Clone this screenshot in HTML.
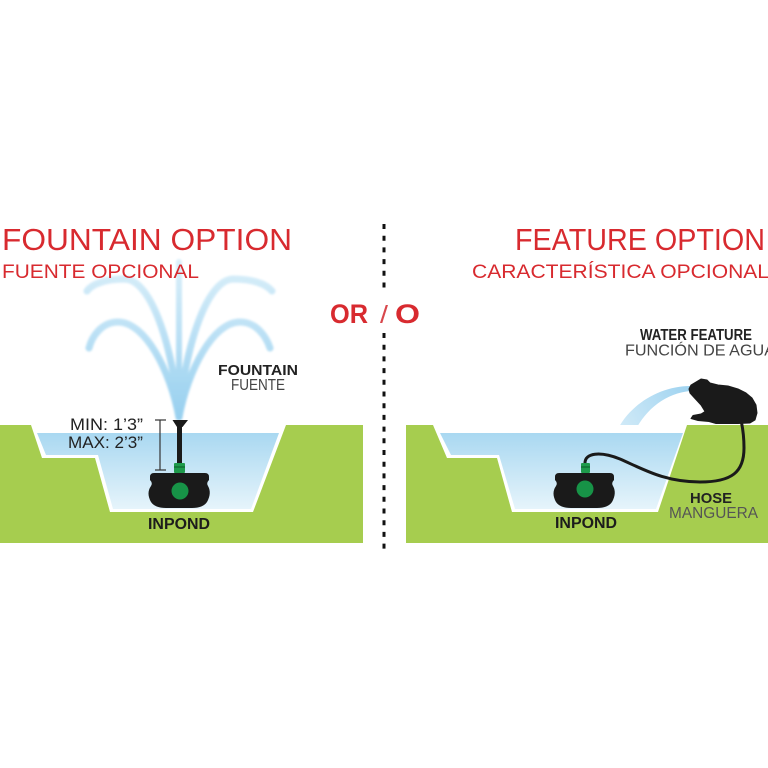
<!DOCTYPE html>
<html>
<head>
<meta charset="utf-8">
<style>
  html,body{margin:0;padding:0;background:#ffffff;}
  body{width:768px;height:768px;overflow:hidden;}
  svg{display:block;}
  text{font-family:"Liberation Sans", sans-serif;}
</style>
</head>
<body>
<svg width="768" height="768" viewBox="0 0 768 768" xmlns="http://www.w3.org/2000/svg">
  <defs>
    <linearGradient id="wat" x1="0" y1="0" x2="0" y2="1">
      <stop offset="0" stop-color="#a9d8f1"/>
      <stop offset="1" stop-color="#e6f4fb"/>
    </linearGradient>
    <linearGradient id="spray" gradientUnits="userSpaceOnUse" x1="0" y1="420" x2="0" y2="262">
      <stop offset="0" stop-color="#8ccbee"/>
      <stop offset="1" stop-color="#d6edf9"/>
    </linearGradient>
    <linearGradient id="arc" gradientUnits="userSpaceOnUse" x1="690" y1="388" x2="620" y2="433">
      <stop offset="0" stop-color="#9fd3f0"/>
      <stop offset="1" stop-color="#d3ebf8"/>
    </linearGradient>
    <filter id="blur" x="-20%" y="-20%" width="140%" height="140%">
      <feGaussianBlur stdDeviation="1.1"/>
    </filter>
  </defs>

  <rect width="768" height="768" fill="#ffffff"/>

  <!-- ===== LEFT PANEL ===== -->
  <rect x="0" y="425" width="363" height="118" fill="#a6cd4f"/>
  <polygon points="31,425 42,458 95,458 110,512 253,512 286,425" fill="#ffffff"/>
  <polygon points="37,433 46,455 98,455 113,509 251,509 279,433" fill="url(#wat)"/>

  <!-- fountain sprays -->
  <g fill="none" stroke="url(#spray)" stroke-linecap="round" filter="url(#blur)" opacity="0.9">
    <path d="M179,417 L179,262" stroke-width="6"/>
    <path d="M179,417 C172,340 150,280 125,279 C105,279 92,284 87,291" stroke-width="7"/>
    <path d="M179,417 C170,370 145,322 118,322 C102,322 92,336 89,348" stroke-width="7"/>
    <path d="M179,417 C186,340 208,280 233,279 C253,279 266,284 272,291" stroke-width="7"/>
    <path d="M179,417 C188,370 213,322 240,322 C256,322 266,336 270,348" stroke-width="7"/>
  </g>

  <!-- height bar -->
  <g stroke="#333" stroke-width="1.2">
    <line x1="160" y1="420" x2="160" y2="470"/>
    <line x1="155" y1="420" x2="166" y2="420"/>
    <line x1="155" y1="470" x2="166" y2="470"/>
  </g>

  <!-- left pump -->
  <g>
    <rect x="177" y="425" width="5" height="40" fill="#1a1a1a"/>
    <polygon points="172.5,420 188,420 182.5,427 177,427" fill="#1a1a1a"/>
    <rect x="174" y="463" width="11" height="10" rx="1" fill="#1e9a4b"/>
    <rect x="174" y="466" width="11" height="2" fill="#137a38"/>
    <path d="M154,473 L205,473 Q209,473 209,477 L209,480 Q206,483 208,486 Q212,493 207,502 Q203,508 192,508 L166,508 Q155,508 151,502 Q146,493 151,486 Q153,483 150,480 L150,477 Q150,473 154,473 Z" fill="#1a1a1a"/>
    <circle cx="180" cy="491" r="8.5" fill="#179347"/>
  </g>

  <text x="70" y="430" font-size="16.5" fill="#222" textLength="73" lengthAdjust="spacingAndGlyphs">MIN: 1’3”</text>
  <text x="68" y="448" font-size="16.5" fill="#222" textLength="75" lengthAdjust="spacingAndGlyphs">MAX: 2’3”</text>

  <text x="148" y="529" font-size="16" font-weight="bold" fill="#1c1c1c" textLength="62" lengthAdjust="spacingAndGlyphs">INPOND</text>

  <text x="218" y="375" font-size="15" font-weight="bold" fill="#222" textLength="80" lengthAdjust="spacingAndGlyphs">FOUNTAIN</text>
  <text x="231" y="390" font-size="15.5" fill="#444" textLength="54" lengthAdjust="spacingAndGlyphs">FUENTE</text>

  <text x="2" y="250" font-size="31" fill="#d82a2f" textLength="290" lengthAdjust="spacingAndGlyphs">FOUNTAIN OPTION</text>
  <text x="2" y="278" font-size="19.5" fill="#d82a2f" textLength="197" lengthAdjust="spacingAndGlyphs">FUENTE OPCIONAL</text>

  <!-- ===== DIVIDER ===== -->
  <line x1="384" y1="224" x2="384" y2="292" stroke="#111" stroke-width="3" stroke-dasharray="5 6.7"/>
  <line x1="384" y1="333" x2="384" y2="550" stroke="#111" stroke-width="3" stroke-dasharray="5 6.7"/>
  <text x="330" y="323" font-size="27" font-weight="bold" fill="#d82a2f" textLength="38" lengthAdjust="spacingAndGlyphs">OR</text>
  <text x="380" y="323" font-size="25" fill="#d8474c" textLength="8" lengthAdjust="spacingAndGlyphs">/</text>
  <text x="395" y="323" font-size="27" font-weight="bold" fill="#d82a2f" textLength="25" lengthAdjust="spacingAndGlyphs">O</text>

  <!-- ===== RIGHT PANEL ===== -->
  <text x="515" y="250" font-size="31" fill="#d82a2f" textLength="250" lengthAdjust="spacingAndGlyphs">FEATURE OPTION</text>
  <text x="472" y="278" font-size="19.5" fill="#d82a2f" textLength="297" lengthAdjust="spacingAndGlyphs">CARACTERÍSTICA OPCIONAL</text>

  <text x="640" y="340" font-size="16" font-weight="bold" fill="#222" textLength="112" lengthAdjust="spacingAndGlyphs">WATER FEATURE</text>
  <text x="625" y="355.5" font-size="16" fill="#444" textLength="150" lengthAdjust="spacingAndGlyphs">FUNCIÓN DE AGUA</text>

  <!-- water arc from frog -->
  <path d="M690,386 C660,386 628,405 616,433 L634,433 C645,410 665,393 691,391 Z" fill="url(#arc)"/>

  <rect x="406" y="425" width="362" height="118" fill="#a6cd4f"/>
  <polygon points="433,425 447,458 497,458 512,512 658,512 687,425" fill="#ffffff"/>
  <polygon points="440,433 451,455 499,455 515,509 656,509 683,433" fill="url(#wat)"/>

  <!-- frog -->
  <path d="M689,389 L691,385 L696,382 L701,379 L707,380 L710,383 L718,385 L728,386 L738,389 L746,393 L752,398 L756,405 L757,413 L755,420 L750,423 L738,423.5 L716,423.5 L709,421.5 L698,420.5 L691,418.5 L693,415.5 L701,414 L705,411.5 L701,405 L695,398.5 L690,393 Z" fill="#1a1a1a" stroke="#1a1a1a" stroke-width="1" stroke-linejoin="round"/>

  <!-- hose -->
  <path d="M585,463 C585,453 600,451 620,459 C645,470 665,482 700,482 C732,482 744,472 744,448 C744,433 742,425 741,420" fill="none" stroke="#1a1a1a" stroke-width="3"/>

  <!-- right pump -->
  <g transform="translate(405,0)">
    <rect x="176" y="463" width="9" height="10" rx="1" fill="#1e9a4b"/>
    <rect x="176" y="466" width="9" height="2" fill="#137a38"/>
    <path d="M154,473 L205,473 Q209,473 209,477 L209,480 Q206,483 208,486 Q212,493 207,502 Q203,508 192,508 L166,508 Q155,508 151,502 Q146,493 151,486 Q153,483 150,480 L150,477 Q150,473 154,473 Z" fill="#1a1a1a"/>
    <circle cx="180" cy="489" r="8.5" fill="#179347"/>
  </g>

  <text x="555" y="528" font-size="16" font-weight="bold" fill="#1c1c1c" textLength="62" lengthAdjust="spacingAndGlyphs">INPOND</text>
  <text x="690" y="503" font-size="15" font-weight="bold" fill="#222" textLength="42" lengthAdjust="spacingAndGlyphs">HOSE</text>
  <text x="669" y="518" font-size="16" fill="#555" textLength="89" lengthAdjust="spacingAndGlyphs">MANGUERA</text>
</svg>
</body>
</html>
